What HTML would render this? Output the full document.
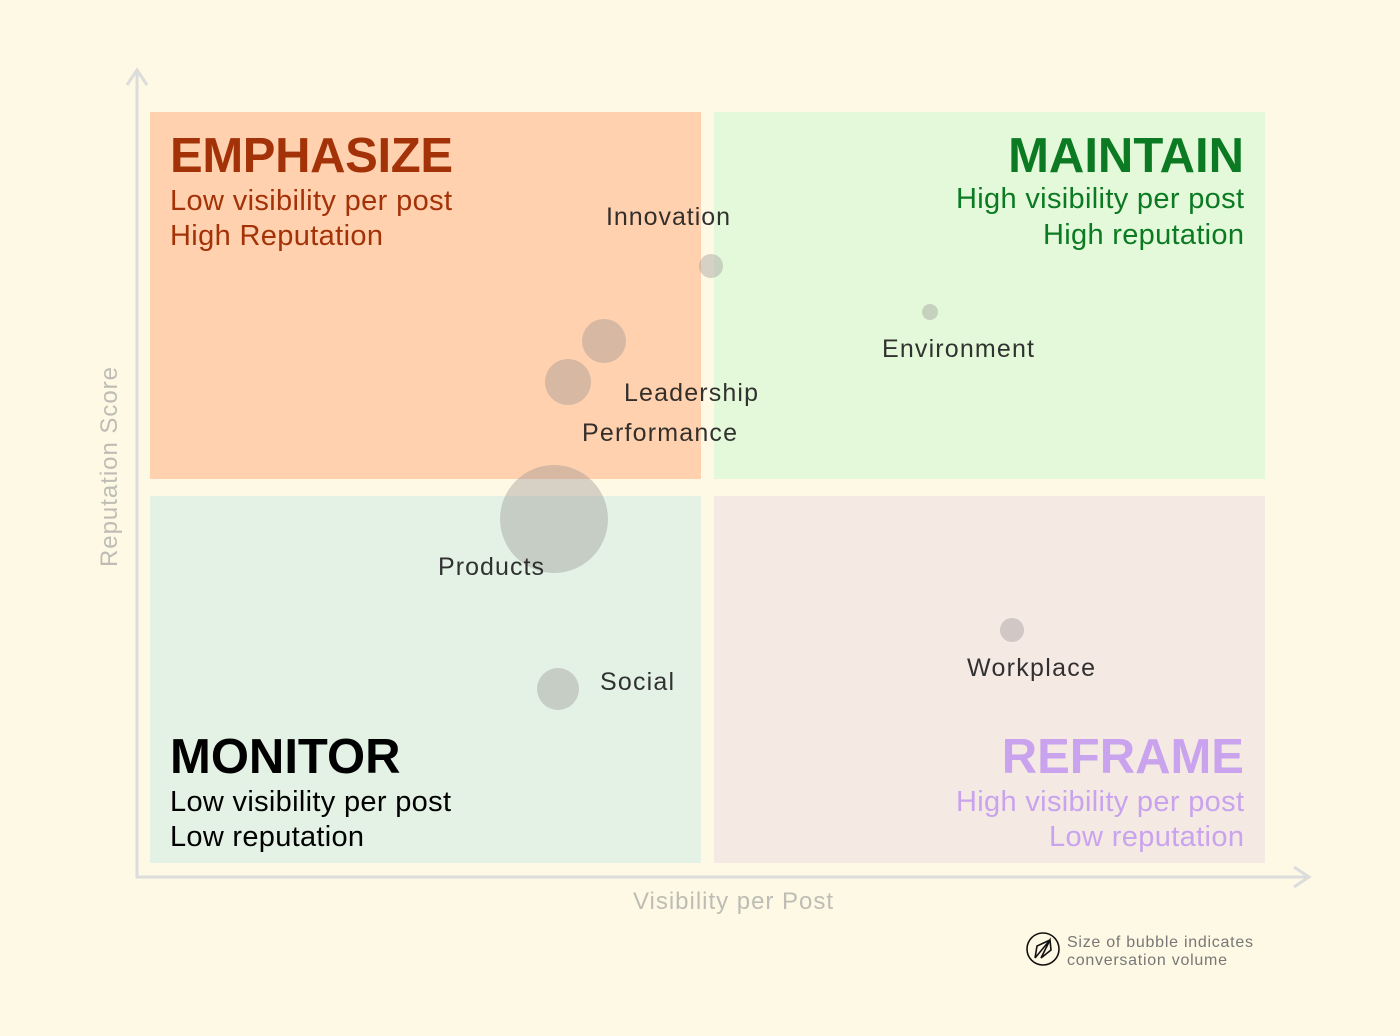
<!DOCTYPE html>
<html><head><meta charset="utf-8"><style>
html,body{margin:0;padding:0;background:#fef9e4;}
svg{display:block;font-family:"Liberation Sans",sans-serif;}
</style></head><body>
<svg width="1400" height="1036" viewBox="0 0 1400 1036">
<rect width="1400" height="1036" fill="#fef9e4"/>
<rect x="150" y="112" width="551" height="367" fill="#ffd1af"/>
<rect x="714" y="112" width="551" height="367" fill="#e4f9da"/>
<rect x="150" y="496" width="551" height="367" fill="#e4f2e5"/>
<rect x="714" y="496" width="551" height="367" fill="#f5e9e4"/>
<g stroke="#dcdcdc" stroke-width="3" fill="none">
<path d="M137 72 V877 H1308"/>
<path d="M127 85 L137 70 L147 85"/>
<path d="M1294 867 L1309 877 L1294 887"/>
</g>
<text x="117" y="467" transform="rotate(-90 117 467)" text-anchor="middle" font-size="24" fill="#bdbdb5" textLength="200">Reputation Score</text>
<text x="733" y="909" text-anchor="middle" font-size="24" fill="#bdbdb5" textLength="200">Visibility per Post</text>
<g font-weight="bold" font-size="49">
<text x="170" y="172" fill="#a33208" textLength="283">EMPHASIZE</text>
<text x="1244" y="172" text-anchor="end" fill="#0b7a22">MAINTAIN</text>
<text x="170" y="773" fill="#000">MONITOR</text>
<text x="1244" y="773" text-anchor="end" fill="#c9a3ee">REFRAME</text>
</g>
<g font-size="29">
<text x="170" y="210" fill="#a33208" textLength="282">Low visibility per post</text>
<text x="170" y="245" fill="#a33208" textLength="213">High Reputation</text>
<text x="956" y="208" fill="#0b7a22" textLength="288">High visibility per post</text>
<text x="1043" y="244" fill="#0b7a22" textLength="201">High reputation</text>
<text x="170" y="811" fill="#000" textLength="281">Low visibility per post</text>
<text x="170" y="846" fill="#000" textLength="194">Low reputation</text>
<text x="956" y="811" fill="#c9a3ee" textLength="288">High visibility per post</text>
<text x="1049" y="846" fill="#c9a3ee" textLength="195">Low reputation</text>
</g>
<g fill="rgb(150,145,145)" fill-opacity="0.38">
<circle cx="711" cy="266" r="12"/>
<circle cx="930" cy="312" r="8"/>
<circle cx="604" cy="341" r="22"/>
<circle cx="568" cy="382" r="23"/>
<circle cx="554" cy="519" r="54"/>
<circle cx="558" cy="689" r="21"/>
<circle cx="1012" cy="630" r="12"/>
</g>
<g font-size="25" fill="#1c1c1c" fill-opacity="0.9">
<text x="606" y="225" textLength="124">Innovation</text>
<text x="882" y="357" textLength="152">Environment</text>
<text x="624" y="401" textLength="134">Leadership</text>
<text x="582" y="441" textLength="155">Performance</text>
<text x="438" y="575" textLength="106">Products</text>
<text x="600" y="690" textLength="74">Social</text>
<text x="967" y="676" textLength="128">Workplace</text>
</g>
<circle cx="1043" cy="949" r="16" fill="none" stroke="#111" stroke-width="1.6"/>
<path d="M1035 958 L1050 940 M1050 940 L1051 950 L1041 958 Z M1035 958 L1037 946 L1050 940" fill="none" stroke="#111" stroke-width="1.6"/>
<text x="1067" y="947" font-size="16" fill="#777" textLength="186">Size of bubble indicates</text>
<text x="1067" y="965" font-size="16" fill="#777" textLength="160">conversation volume</text>
</svg>
</body></html>
